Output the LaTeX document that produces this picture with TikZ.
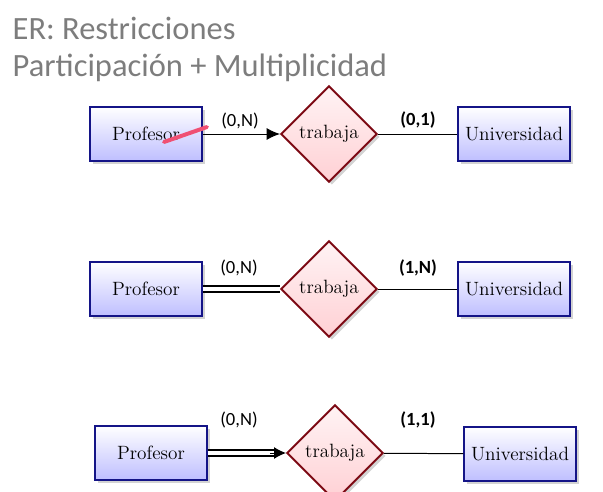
\documentclass[tikz,border=0pt]{standalone}
\usepackage{fontspec}
\usepackage{tikz}
\usetikzlibrary{arrows.meta, positioning, shapes.geometric, shadows}
\newfontfamily\slidefont{Carlito}
\definecolor{titlegray}{RGB}{125,125,125}
\definecolor{entityblue}{RGB}{20,20,135}
\definecolor{entityfill}{RGB}{190,190,255}
\definecolor{relred}{RGB}{125,10,20}
\definecolor{relfill}{RGB}{255,208,212}
\definecolor{penpink}{RGB}{240,80,115}

\begin{document}
\begin{tikzpicture}[
  x=0.0265cm, y=-0.0265cm,
  entity/.style={rectangle, draw=entityblue, line width=1.4pt, top color=white,
                 bottom color=entityfill, minimum width=2.95cm, minimum height=1.45cm,
                 font=\fontsize{14.5}{16}\selectfont, drop shadow={opacity=0.35}},
  relation/.style={diamond, draw=relred, line width=1.4pt, top color=relfill!25,
                   bottom color=relfill, minimum size=2.55cm, inner sep=0pt,
                   font=\fontsize{14.5}{16}\selectfont, drop shadow={opacity=0.35}},
  card/.style={font=\slidefont\fontsize{14}{16}\selectfont},
  boldcard/.style={font=\slidefont\bfseries\fontsize{14}{16}\selectfont},
  link/.style={line width=0.75pt},
  twolink/.style={double, double distance=3.6pt, line width=1pt}
]
\useasboundingbox (0,0) rectangle (603,492);
% title
\node[anchor=west, text=titlegray, font=\slidefont\fontsize{24.5}{29}\selectfont] (title1) at (8,28) {ER: Restricciones};
\node[anchor=west, text=titlegray, font=\slidefont\fontsize{24.5}{29}\selectfont] (title2) at (8,68) {Participación + Multiplicidad};

% row 1: arrow
\node[entity] (prof1) at (146,134) {Profesor};
\node[relation] (rel1) at (329,134) {trabaja};
\node[entity] (univ1) at (514,134) {Universidad};
\draw[link, -{Latex[length=10pt, width=9pt]}] (prof1) -- (rel1);
\draw[link] (rel1) -- (univ1);
\node[card] (c1a) at (240,121) {(0,N)};
\node[boldcard] (c1b) at (418,120) {(0,1)};
\draw[penpink, line width=3pt, line cap=round] (164,142) -- (207,127);

% row 2: double line
\node[entity] (prof2) at (146,289) {Profesor};
\node[relation] (rel2) at (329,289) {trabaja};
\node[entity] (univ2) at (514,289) {Universidad};
\draw[twolink] (prof2) -- (rel2);
\draw[link] (rel2) -- (univ2);
\node[card] (c2a) at (239,268) {(0,N)};
\node[boldcard] (c2b) at (418,268) {(1,N)};

% row 3: double arrow
\node[entity] (prof3) at (151,453) {Profesor};
\node[relation] (rel3) at (335,453) {trabaja};
\node[entity] (univ3) at (520,454) {Universidad};
\draw[twolink, shorten >=7pt] (prof3) -- (rel3);
\draw[link, -{Latex[length=9pt, width=9pt]}] ([xshift=-12pt]rel3.west) -- (rel3);
\draw[link] (rel3) -- (univ3);
\node[card] (c3a) at (239,420) {(0,N)};
\node[boldcard] (c3b) at (418,420) {(1,1)};
\end{tikzpicture}
\end{document}
